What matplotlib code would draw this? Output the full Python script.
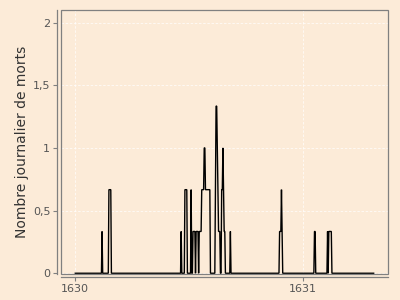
"""
Daily deaths, 1630-1631 (3-day smoothed counts), ggplot-like look.
Writes out.png (400x300).
"""

import numpy as np
import matplotlib

matplotlib.use("Agg")
import matplotlib.pyplot as plt
import matplotlib.dates as mdates
from matplotlib.patches import Rectangle
from matplotlib.ticker import FuncFormatter

FOND = "#FCEBD8"
GRIS = "#808080"
TEXTE = "#555555"

# -----------------------------------------------------------------------------
# Data: day offset from 1630-01-01 -> value
# -----------------------------------------------------------------------------

DEBUT = np.datetime64("1630-01-01")
N_JOURS = 480

jours_pics = [
    43,
    54, 55, 56, 57,
    170,
    176, 177, 178, 179,
    186,
    189, 190, 191, 192, 194, 195, 196, 197, 199, 200, 201, 202,
    203, 204, 205, 206, 207, 208,
    209, 210, 211, 212, 213, 214, 215, 216,
    225, 226, 227, 228, 229, 230, 231, 232,
    235, 236, 237, 238, 239, 240,
    249,
    328, 329, 330, 331, 332,
    384, 385,
    405, 407, 408, 409, 410, 411,
]
valeurs_pics = [
    1/3,
    2/3, 2/3, 2/3, 2/3,
    1/3,
    2/3, 2/3, 2/3, 2/3,
    2/3,
    1/3, 1/3, 1/3, 1/3, 1/3, 1/3, 1/3, 1/3, 1/3, 1/3, 1/3, 1/3,
    2/3, 2/3, 2/3, 2/3, 1, 1,
    2/3, 2/3, 2/3, 2/3, 2/3, 2/3, 2/3, 2/3,
    2/3, 4/3, 4/3, 1, 2/3, 1/3, 1/3, 1/3,
    2/3, 2/3, 1, 2/3, 1/3, 1/3,
    1/3,
    1/3, 1/3, 1/3, 2/3, 1/3,
    1/3, 1/3,
    1/3, 1/3, 1/3, 1/3, 1/3, 1/3,
]

y_ticks = [0, 0.5, 1, 1.5, 2]
x_ticks = [np.datetime64("1630-01-01"), np.datetime64("1631-01-01")]
x_labels = ["1630", "1631"]

dates = np.arange(DEBUT, DEBUT + N_JOURS, dtype="datetime64[D]")
morts = np.zeros(N_JOURS)
morts[jours_pics] = valeurs_pics

# -----------------------------------------------------------------------------
# Figure
# -----------------------------------------------------------------------------

fig = plt.figure(figsize=(4, 3), dpi=100, facecolor=FOND)
ax = fig.add_axes([60.7 / 400, 1 - 274 / 300, (388 - 60.7) / 400, (274 - 10) / 300])
ax.set_facecolor(FOND)

ax.plot(dates, morts, color="black", lw=1.0, solid_joinstyle="miter", zorder=3)

x0 = mdates.date2num(DEBUT)
ax.set_xlim(x0 - 23.4, x0 + 502)
ax.set_ylim(-0.006, 2.1)

ax.set_xticks(mdates.date2num(x_ticks))
ax.set_xticklabels(x_labels)
ax.set_yticks(y_ticks)
ax.yaxis.set_major_formatter(FuncFormatter(lambda v, _: f"{v:g}".replace(".", ",")))

ax.grid(True, color="white", lw=0.6, ls=(0, (3, 2)), alpha=0.8, zorder=0)
ax.set_axisbelow(True)

for side in ("top", "right"):
    ax.spines[side].set_visible(False)
for side in ("left", "bottom"):
    ax.spines[side].set_position(("outward", 2.5))
    ax.spines[side].set_color(GRIS)
    ax.spines[side].set_linewidth(0.9)

ax.add_patch(Rectangle((0, 0), 1, 1, transform=ax.transAxes, fill=False,
                       edgecolor=GRIS, lw=0.9, clip_on=False, zorder=4))

ax.tick_params(length=3, width=0.8, color=GRIS, labelcolor=TEXTE,
               labelsize=8, pad=2)
ax.set_ylabel("Nombre journalier de morts", fontsize=10, color="#333333",
              labelpad=3)

fig.savefig("out.png", dpi=100, facecolor=FOND)
